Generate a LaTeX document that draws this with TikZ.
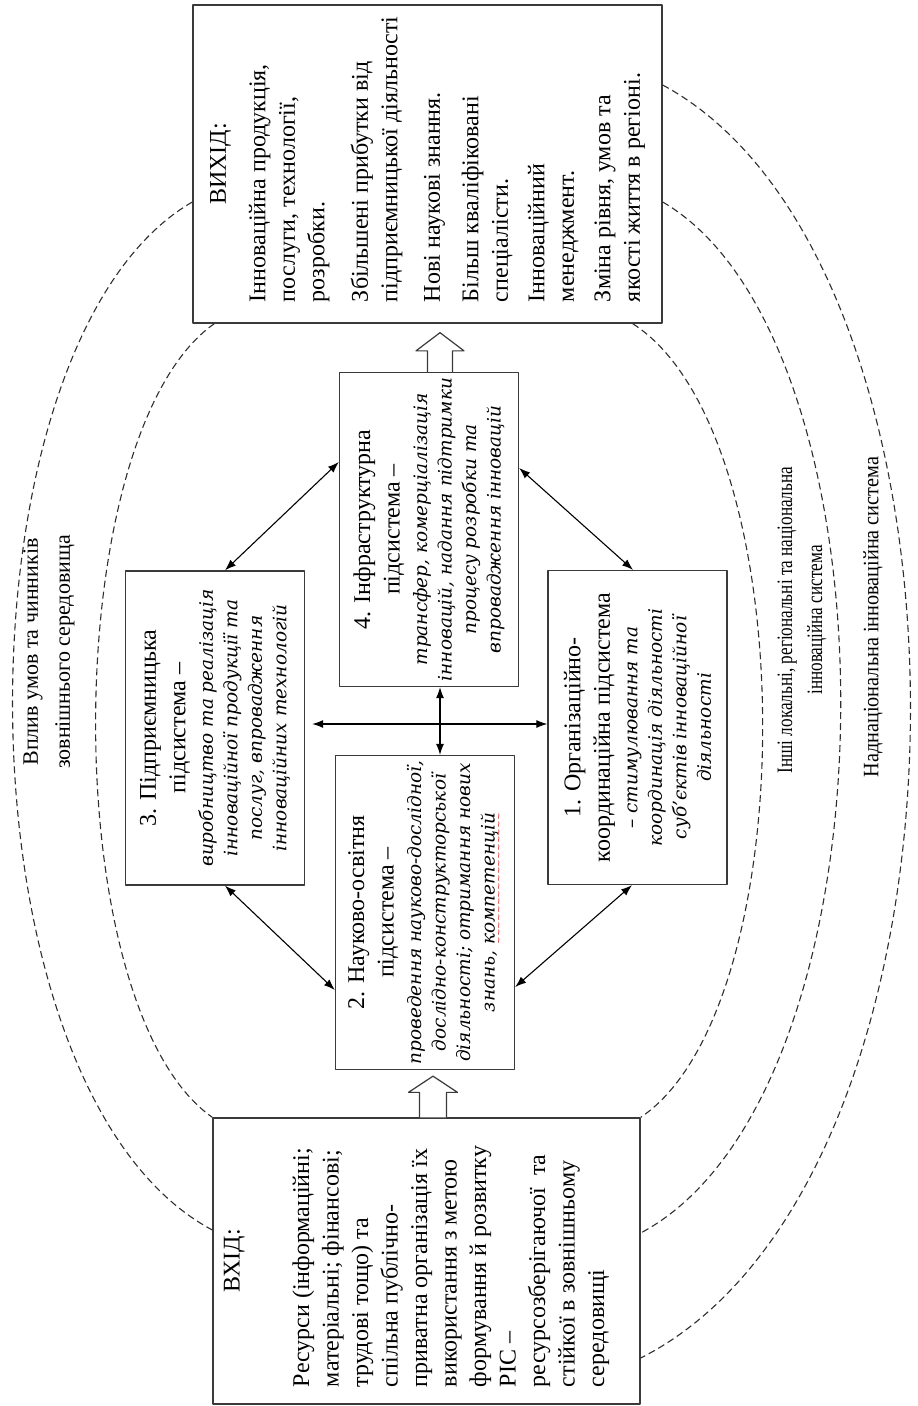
\documentclass[tikz,border=0pt]{standalone}
\usepackage{fontspec}
\setmainfont{Liberation Serif}
\newfontfamily\noteserif{DejaVu Serif}
\newfontfamily\narrowserif[FakeStretch=0.78]{Liberation Serif}
\newfontfamily\slimserif[FakeStretch=0.92]{Liberation Serif}
\usepackage{graphicx}
\usetikzlibrary{arrows.meta,calc}
\definecolor{boxline}{HTML}{3A3A3A}
\definecolor{ringline}{HTML}{2E2E2E}
\definecolor{spellred}{HTML}{E03030}
\newcommand\headfont{\fontsize{24}{29.5}\selectfont}
\newcommand\notefont{\noteserif\itshape\fontsize{18.5}{24.5}\selectfont}
\newcommand\envfont{\fontsize{22}{32}\selectfont}
\newcommand\subtext[2]{\rotatebox{90}{\parbox{314pt}{\centering\headfont #1\par\vspace{3pt}\notefont #2\par}}}
\newcommand\spellwave[1]{\setbox0\hbox{#1}\rlap{\textcolor{spellred}{\raisebox{-7pt}{\fontsize{9}{9}\selectfont\hbox to \wd0{\xleaders\hbox{\char126}\hfil}}}}#1}
\tikzset{
every picture/.style={line cap=round,line join=round},
>={Latex[length=11pt,width=8pt]},
io box/.style={draw=boxline, line width=1.3pt, inner sep=0pt},
sub box/.style={draw=boxline, line width=1.3pt, inner sep=0pt, minimum width=179pt, minimum height=314pt},
link/.style={draw=black, <->, line width=1.1pt},
ring/.style={draw=ringline, line width=1.1pt, dash pattern=on 7pt off 4pt, line cap=butt},
block arrow/.style={draw=boxline, line width=1.2pt, fill=white},
env label/.style={rotate=90, align=center, font=\envfont}
}
\begin{document}
\begin{tikzpicture}[x=1pt,y=-1pt]
\useasboundingbox (0,0) rectangle (918,1406);
% output and input
\node[io box, minimum width=469pt, minimum height=318pt] (out) at (427.5,164) {\rotatebox{90}{\parbox{276pt}{\headfont\centering ВИХІД:\par\vspace{10pt}\raggedright
Інноваційна продукція,\\ послуги, технології,\\ розробки.\par\vspace{14pt}
Збільшені прибутки від\\ \mbox{підприємницької діяльності}\par\vspace{13pt}
Нові наукові знання.\par\vspace{9pt}
Більш кваліфіковані\\ спеціалісти.\par\vspace{7pt}
Інноваційний\\ менеджмент.\par\vspace{7pt}
Зміна рівня, умов та\\ якості життя в регіоні.}}};
\node[io box, minimum width=427pt, minimum height=286pt] (in) at (426.5,1261) {\rotatebox{90}{\parbox{252pt}{\headfont\centering ВХІД:\par\vspace{40pt}\raggedright
Ресурси (інформаційні;\\ матеріальні; фінансові;\\ трудові тощо) та\\ спільна публічно-\\ \mbox{приватна організація їх}\\ \mbox{використання з метою}\\ \mbox{формування й розвитку}\\ РІС –\\ ресурсозберігаючої\hspace{12pt}та\\ стійкої в зовнішньому\\ середовищі\par\vspace{20pt}}}};
% subsystems
\node[sub box] (b3) at (215,728) {\subtext{3. Підприємницька\\підсистема –}{виробництво та реалізація\\інноваційної продукції та\\послуг, впровадження\\інноваційних технологій}};
\node[sub box] (b4) at (429,529.5) {\subtext{4. Інфраструктурна\\підсистема –}{трансфер, комерціалізація\\інновацій, надання підтримки\\процесу розробки та\\впровадження інновацій}};
\node[sub box, minimum height=311pt] (b2) at (425,912.5) {\subtext{2. Науково-освітня\\підсистема –}{проведення науково-дослідної,\\дослідно-конструкторської\\діяльності; отримання нових\\знань, \spellwave{компетенцій}}};
\node[sub box] (b1) at (637.5,727.5) {\subtext{1. Організаційно-\\координаційна підсистема}{– стимулювання та\\координація діяльності\\суб’єктів інноваційної\\діяльності}};
% surroundings
\node[env label] (envtxt) at (49,652) {Вплив умов та чинників\\зовнішнього середовища};
\node[env label, font=\narrowserif\fontsize{22}{30}\selectfont] (localtxt) at (802,620) {Інші локальні, регіональні та національна\\інноваційна система};
\node[env label, font=\slimserif\fontsize{22}{30}\selectfont] (supratxt) at (873,617) {Наднаціональна інноваційна система};
% links between subsystems
\draw[link] ([xshift=10pt]b3.north) -- ([yshift=67.5pt]b4.west);
\draw[link] ([yshift=61.5pt]b4.east) -- ([xshift=-4.5pt]b1.north);
\draw[link] ([xshift=10pt]b3.south) -- ([yshift=-77.5pt]b2.west);
\draw[link] ([yshift=-74.5pt]b2.east) -- ([xshift=-5.5pt]b1.south);
\draw[link, shorten <=7pt] ([yshift=4pt]b3.east) -- ([yshift=3.5pt]b1.west);
\draw[link] ([xshift=11pt]b4.south) -- ([xshift=15pt]b2.north);
% block arrows
\coordinate (ia) at ([xshift=6.5pt]in.north);
\coordinate (it) at ([xshift=8pt,yshift=-6pt]b2.south);
\draw[block arrow] ($(ia)+(-13.5,0)$) -- ++(0,-25) -- ++(-11,0) -- (it) -- ($(ia)+(24.5,-25)$) -- ++(-11,0) -- ($(ia)+(13.5,0)$);
\coordinate (oa) at ([xshift=11pt]b4.north);
\coordinate (ot) at ([xshift=12.5pt,yshift=-9pt]out.south);
\draw[block arrow] ($(oa)+(-12.5,0)$) -- ++(0,-21) -- ++(-11.5,0) -- (ot) -- ($(oa)+(24,-21)$) -- ++(-11.5,0) -- ($(oa)+(12.5,0)$);
% dashed system borders
\draw[ring] ([xshift=22pt]out.south west) .. controls +(-157,110) and +(-157,-110) .. (in.north west);
\draw[ring] ([xshift=-30pt]out.south east) .. controls +(172,110) and +(164,-110) .. (in.north east);
\draw[ring] ([yshift=-38pt]out.west) .. controls +(-243,140) and +(-263,-140) .. ([yshift=31pt]in.west);
\draw[ring] ([yshift=-38pt]out.east) .. controls +(241,140) and +(263,-140) .. ([yshift=28pt]in.east);
\draw[ring] ([yshift=79pt]out.east) .. controls +(334,180) and +(356,-180) .. ([yshift=-97pt]in.east);
\end{tikzpicture}
\end{document}
